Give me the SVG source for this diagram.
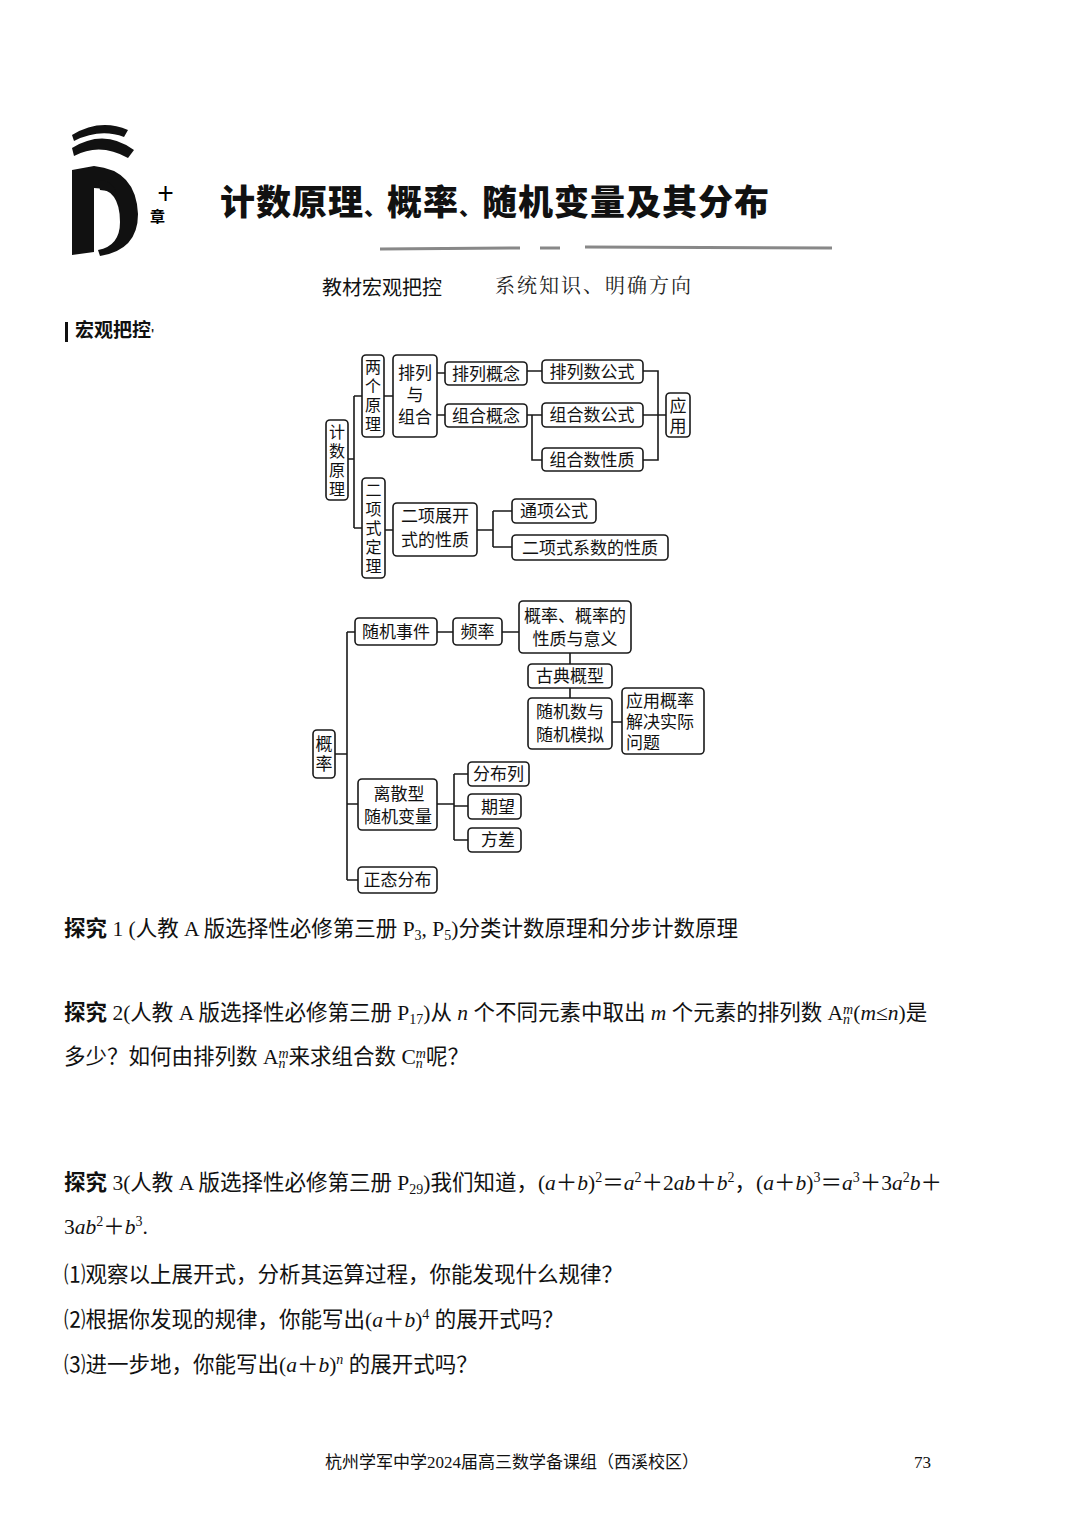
<svg xmlns="http://www.w3.org/2000/svg" width="1080" height="1528" viewBox="0 0 1080 1528">
<style>
.b{fill:#fff;stroke:#1a1a1a;stroke-width:1.6}
.t{font-family:"Noto Sans CJK SC",sans-serif;font-size:17px;fill:#111}
.v{font-size:16px}
.c{fill:none;stroke:#1a1a1a;stroke-width:1.6}
.p{font-family:"Liberation Serif","Noto Sans CJK SC",serif;font-size:21.5px;fill:#111}
.s{font-size:14px}
</style>
<rect width="1080" height="1528" fill="#fff"/>
<g id="logo" fill="#111">
<path d="M72 135 Q100 118 128 130 L124 137 Q100 128 74 141 Z"/>
<path d="M72 148 Q104 128 134 150 L128 158 Q100 142 74 156 Z"/>
<path d="M72 170 L72 255 L94 252 L94 188 Q120 188 120 222 Q120 246 98 250 L100 256 Q138 250 138 214 Q136 170 94 166 Z"/>
<path d="M98 180 Q112 180 116 192 L100 190 Z"/>
</g>
<text x="158" y="199" font-family="Noto Sans CJK SC,sans-serif" font-size="15" font-weight="bold">十</text>
<text x="150" y="222" font-family="Noto Sans CJK SC,sans-serif" font-size="15" font-weight="bold">章</text>
<text x="220" y="215" font-family="Noto Sans CJK SC,sans-serif" font-size="35" font-weight="900" fill="#111" letter-spacing="1">计数原理<tspan font-size="22">、</tspan>概率<tspan font-size="22">、</tspan>随机变量及其分布</text>
<path d="M380 249 L520 248 M540 248 L560 248 M585 247 L832 248" stroke="#888" stroke-width="3" fill="none"/>
<text x="322" y="295" font-family="Noto Sans CJK SC,sans-serif" font-size="20" fill="#111">教材宏观把控</text>
<text x="495" y="293" font-family="Noto Serif CJK SC,Noto Sans CJK SC,serif" font-size="20" fill="#222" letter-spacing="2">系统知识、明确方向</text>
<rect x="65" y="322" width="3" height="20" fill="#111"/>
<text x="75" y="337" font-family="Noto Sans CJK SC,sans-serif" font-size="19" font-weight="bold" fill="#111">宏观把控<tspan font-size="10">'</tspan></text>

<g id="connectors">
<path class="c" d="M348 459 H354 M354 396 V528 M354 396 H362 M354 528 H362"/>
<path class="c" d="M384 396 H393 M437 373 H445 M437 415 H445 M527 371 H542 M527 415 H542 M532 415 V460 H542"/>
<path class="c" d="M643 371 H658 V460 H643 M643 415 H666"/>
<path class="c" d="M385 530 H393 M477 530 H493 M493 511 V547 M493 511 H512 M493 547 H512"/>
<path class="c" d="M335 754 H347 M347 632 V880 M347 632 H355 M347 804 H358 M347 880 H358"/>
<path class="c" d="M437 632 H453 M502 632 H519 M570 653 V664 M570 688 V698 M612 722 H622"/>
<path class="c" d="M437 804 H454 M454 774 V840 M454 774 H468 M454 806 H468 M454 840 H468"/>
</g>

<g id="n_jishu"><rect class="b" x="326" y="420" width="22" height="80" rx="4"/><text class="t v" x="337" y="438" text-anchor="middle">计<tspan x="337" dy="19">数</tspan><tspan x="337" dy="19">原</tspan><tspan x="337" dy="19">理</tspan></text></g>
<g id="n_liangge"><rect class="b" x="362" y="355" width="22" height="82" rx="4"/><text class="t v" x="373" y="373" text-anchor="middle">两<tspan x="373" dy="19">个</tspan><tspan x="373" dy="19">原</tspan><tspan x="373" dy="19">理</tspan></text></g>
<g id="n_erxiangshi"><rect class="b" x="362" y="478" width="23" height="100" rx="4"/><text class="t v" x="373.5" y="496" text-anchor="middle">二<tspan x="373.5" dy="19">项</tspan><tspan x="373.5" dy="19">式</tspan><tspan x="373.5" dy="19">定</tspan><tspan x="373.5" dy="19">理</tspan></text></g>
<g id="n_pailiezuhe"><rect class="b" x="393" y="355" width="44" height="82" rx="4"/><text class="t" x="415" y="379" text-anchor="middle">排列<tspan x="415" dy="22">与</tspan><tspan x="415" dy="22">组合</tspan></text></g>
<g id="n_pailiegn"><rect class="b" x="445" y="362" width="82" height="23" rx="4"/><text class="t" x="486" y="380" text-anchor="middle">排列概念</text></g>
<g id="n_zuhegn"><rect class="b" x="445" y="404" width="82" height="23" rx="4"/><text class="t" x="486" y="422" text-anchor="middle">组合概念</text></g>
<g id="n_pailiegs"><rect class="b" x="542" y="360" width="101" height="23" rx="4"/><text class="t" x="592" y="378" text-anchor="middle">排列数公式</text></g>
<g id="n_zuhegs"><rect class="b" x="542" y="403" width="101" height="24" rx="4"/><text class="t" x="592" y="421" text-anchor="middle">组合数公式</text></g>
<g id="n_zuhexz"><rect class="b" x="542" y="448" width="101" height="23" rx="4"/><text class="t" x="592" y="466" text-anchor="middle">组合数性质</text></g>
<g id="n_yingyong"><rect class="b" x="666" y="393" width="24" height="44" rx="4"/><text class="t" x="678" y="412" text-anchor="middle">应<tspan x="678" dy="20">用</tspan></text></g>
<g id="n_zhankai"><rect class="b" x="393" y="503" width="84" height="53" rx="4"/><text class="t" x="435" y="522" text-anchor="middle">二项展开<tspan x="435" dy="24">式的性质</tspan></text></g>
<g id="n_tongxiang"><rect class="b" x="512" y="499" width="84" height="24" rx="4"/><text class="t" x="554" y="517" text-anchor="middle">通项公式</text></g>
<g id="n_xishu"><rect class="b" x="512" y="535" width="156" height="25" rx="4"/><text class="t" x="590" y="554" text-anchor="middle">二项式系数的性质</text></g>

<g id="n_gailv"><rect class="b" x="313" y="730" width="22" height="48" rx="4"/><text class="t" x="324" y="750" text-anchor="middle">概<tspan x="324" dy="20">率</tspan></text></g>
<g id="n_suijishijian"><rect class="b" x="355" y="618" width="82" height="27" rx="4"/><text class="t" x="396" y="638" text-anchor="middle">随机事件</text></g>
<g id="n_pinlv"><rect class="b" x="453" y="618" width="49" height="27" rx="4"/><text class="t" x="477.5" y="638" text-anchor="middle">频率</text></g>
<g id="n_gailvxz"><rect class="b" x="519" y="601" width="112" height="52" rx="4"/><text class="t" x="575" y="622" text-anchor="middle">概率、概率的<tspan x="575" dy="23">性质与意义</tspan></text></g>
<g id="n_gudian"><rect class="b" x="528" y="664" width="84" height="24" rx="4"/><text class="t" x="570" y="682" text-anchor="middle">古典概型</text></g>
<g id="n_suijishu"><rect class="b" x="528" y="698" width="84" height="51" rx="4"/><text class="t" x="570" y="718" text-anchor="middle">随机数与<tspan x="570" dy="23">随机模拟</tspan></text></g>
<g id="n_yingyonggl"><rect class="b" x="622" y="688" width="82" height="66" rx="4"/><text class="t" x="626" y="707">应用概率<tspan x="626" dy="21">解决实际</tspan><tspan x="626" dy="21">问题</tspan></text></g>
<g id="n_lisan"><rect class="b" x="358" y="779" width="79" height="51" rx="4"/><text class="t" x="399" y="800" text-anchor="middle">离散型<tspan x="398" dy="23">随机变量</tspan></text></g>
<g id="n_fenbulie"><rect class="b" x="468" y="762" width="61" height="24" rx="4"/><text class="t" x="498.5" y="780" text-anchor="middle">分布列</text></g>
<g id="n_qiwang"><rect class="b" x="468" y="794" width="53" height="25" rx="4"/><text class="t" x="498" y="813" text-anchor="middle">期望</text></g>
<g id="n_fangcha"><rect class="b" x="468" y="828" width="53" height="24" rx="4"/><text class="t" x="498" y="846" text-anchor="middle">方差</text></g>
<g id="n_zhengtai"><rect class="b" x="358" y="867" width="79" height="26" rx="4"/><text class="t" x="397.5" y="886" text-anchor="middle">正态分布</text></g>

<g id="body">
<text class="p" x="64" y="936"><tspan font-weight="bold">探究</tspan> 1 (人教 A 版选择性必修第三册 P<tspan class="s" dy="4">3</tspan><tspan dy="-4">, P</tspan><tspan class="s" dy="4">5</tspan><tspan dy="-4">)分类计数原理和分步计数原理</tspan></text>
<text class="p" x="64" y="1020"><tspan font-weight="bold">探究</tspan> 2(人教 A 版选择性必修第三册 P<tspan class="s" dy="4">17</tspan><tspan dy="-4">)从 </tspan><tspan font-style="italic">n</tspan> 个不同元素中取出 <tspan font-style="italic">m</tspan> 个元素的排列数 A<tspan class="s" dy="4" font-style="italic">n</tspan><tspan class="s" dy="-10" dx="-7" font-style="italic">m</tspan><tspan dy="6">(</tspan><tspan font-style="italic">m</tspan>≤<tspan font-style="italic">n</tspan>)是</text>
<text class="p" x="64" y="1064">多少？如何由排列数 A<tspan class="s" dy="4" font-style="italic">n</tspan><tspan class="s" dy="-10" dx="-7" font-style="italic">m</tspan><tspan dy="6">来求组合数 C</tspan><tspan class="s" dy="4" font-style="italic">n</tspan><tspan class="s" dy="-10" dx="-7" font-style="italic">m</tspan><tspan dy="6">呢？</tspan></text>
<text class="p" x="64" y="1190"><tspan font-weight="bold">探究</tspan> 3(人教 A 版选择性必修第三册 P<tspan class="s" dy="4">29</tspan><tspan dy="-4">)我们知道，(</tspan><tspan font-style="italic">a</tspan>＋<tspan font-style="italic">b</tspan>)<tspan class="s" dy="-8">2</tspan><tspan dy="8">＝</tspan><tspan font-style="italic">a</tspan><tspan class="s" dy="-8">2</tspan><tspan dy="8">＋2</tspan><tspan font-style="italic">ab</tspan>＋<tspan font-style="italic">b</tspan><tspan class="s" dy="-8">2</tspan><tspan dy="8">，(</tspan><tspan font-style="italic">a</tspan>＋<tspan font-style="italic">b</tspan>)<tspan class="s" dy="-8">3</tspan><tspan dy="8">＝</tspan><tspan font-style="italic">a</tspan><tspan class="s" dy="-8">3</tspan><tspan dy="8">＋3</tspan><tspan font-style="italic">a</tspan><tspan class="s" dy="-8">2</tspan><tspan dy="8" font-style="italic">b</tspan>＋</text>
<text class="p" x="64" y="1234">3<tspan font-style="italic">ab</tspan><tspan class="s" dy="-8">2</tspan><tspan dy="8">＋</tspan><tspan font-style="italic">b</tspan><tspan class="s" dy="-8">3</tspan><tspan dy="8">.</tspan></text>
<text class="p" x="64" y="1282">⑴观察以上展开式，分析其运算过程，你能发现什么规律？</text>
<text class="p" x="64" y="1327">⑵根据你发现的规律，你能写出(<tspan font-style="italic">a</tspan>＋<tspan font-style="italic">b</tspan>)<tspan class="s" dy="-8">4</tspan><tspan dy="8"> 的展开式吗？</tspan></text>
<text class="p" x="64" y="1372">⑶进一步地，你能写出(<tspan font-style="italic">a</tspan>＋<tspan font-style="italic">b</tspan>)<tspan class="s" dy="-8" font-style="italic">n</tspan><tspan dy="8"> 的展开式吗？</tspan></text>
<text x="512" y="1468" text-anchor="middle" font-family="Liberation Serif,Noto Sans CJK SC,serif" font-size="17" fill="#111">杭州学军中学2024届高三数学备课组（西溪校区）</text>
<text x="914" y="1468" font-family="Liberation Serif,serif" font-size="17" fill="#111">73</text>
</g>
</svg>
